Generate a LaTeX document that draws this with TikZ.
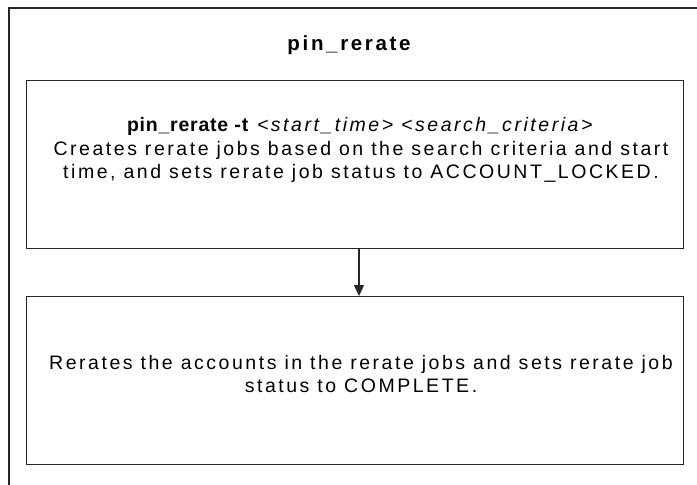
\documentclass[tikz,border=0pt]{standalone}
\usepackage{fontspec}
\setmainfont[LetterSpace=13,BoldFeatures={LetterSpace=4}]{Liberation Sans}
\newfontfamily\titlefont[LetterSpace=13,BoldFeatures={LetterSpace=13}]{Liberation Sans}
\usetikzlibrary{arrows.meta}
\begin{document}
\begin{tikzpicture}[x=1pt,y=-1pt,
  frame/.style={draw=black!85,line width=1.3pt},
  procbox/.style={draw=black!85,line width=1.3pt,minimum width=657pt,minimum height=168pt,inner sep=0pt,anchor=north west},
  txt/.style={font=\fontsize{19.5}{23.3}\selectfont,align=center,text=black}]
\useasboundingbox (0,0) rectangle (697,485);
\draw[frame] (9,490) -- (9,8) -- (700,8);
\node[txt,font=\titlefont\bfseries\fontsize{20.5}{24}\selectfont] (title) at (349,45) {pin\_rerate};
\node[procbox] (b1) at (26,80) {};
\node[procbox] (b2) at (26,296) {};
\node[txt] (t1) at (361,150) {\textbf{pin\_rerate -t} \textit{<start\_time> <search\_criteria>}\\Creates rerate jobs based on the search criteria and start\\time, and sets rerate job status to ACCOUNT\_LOCKED.};
\node[txt] (t2) at (361,374) {Rerates the accounts in the rerate jobs and sets rerate job\\status to COMPLETE.};
\draw[line width=1.3pt,draw=black!85,-{Triangle[length=11pt,width=10pt]}] (b1.south -| 359,0) -- (b2.north -| 359,0);
\end{tikzpicture}
\end{document}
